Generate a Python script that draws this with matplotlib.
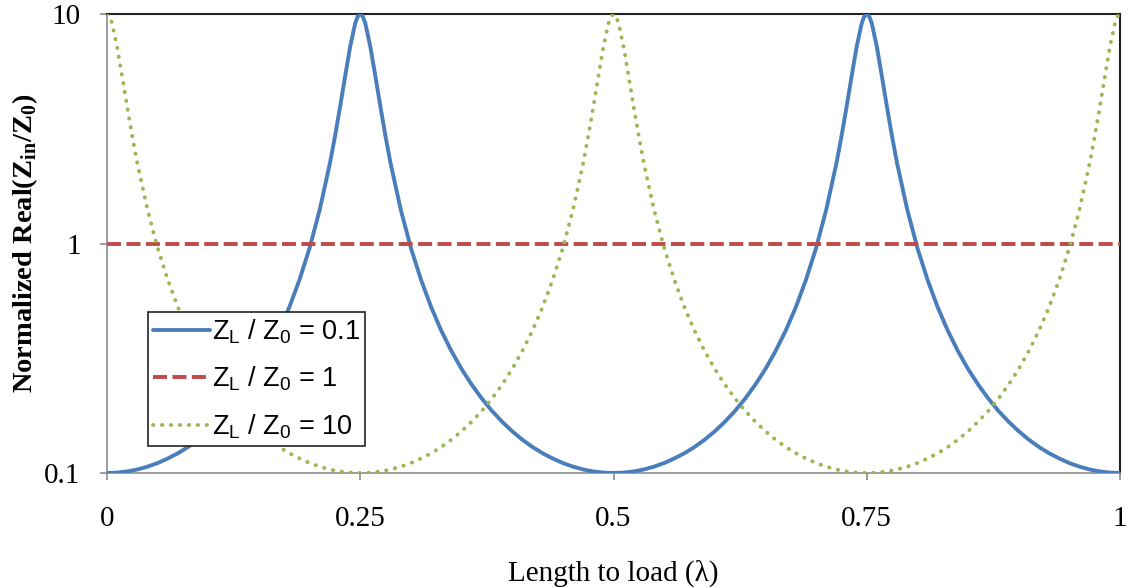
import matplotlib
matplotlib.use("Agg")
import matplotlib.pyplot as plt
from matplotlib.ticker import FixedLocator, FixedFormatter, NullLocator

# Z_L/Z_0 = 0.1 : length to load (wavelengths) and normalized real part
length_01 = [0.0, 0.01, 0.02, 0.03, 0.04, 0.05, 0.06, 0.07, 0.08, 0.09,
             0.10, 0.11, 0.12, 0.13, 0.14, 0.15, 0.16, 0.17, 0.18, 0.19,
             0.20, 0.21, 0.22, 0.225, 0.23, 0.235, 0.24, 0.245, 0.2475, 0.25,
             0.2525, 0.255, 0.26, 0.265, 0.27, 0.275, 0.28, 0.29, 0.30, 0.31,
             0.32, 0.33, 0.34, 0.35, 0.36, 0.37, 0.38, 0.39, 0.40, 0.41,
             0.42, 0.43, 0.44, 0.45, 0.46, 0.47, 0.48, 0.49, 0.50, 0.51,
             0.52, 0.53, 0.54, 0.55, 0.56, 0.57, 0.58, 0.59, 0.60, 0.61,
             0.62, 0.63, 0.64, 0.65, 0.66, 0.67, 0.68, 0.69, 0.70, 0.71,
             0.72, 0.725, 0.73, 0.735, 0.74, 0.745, 0.7475, 0.75, 0.7525, 0.755,
             0.76, 0.765, 0.77, 0.775, 0.78, 0.79, 0.80, 0.81, 0.82, 0.83,
             0.84, 0.85, 0.86, 0.87, 0.88, 0.89, 0.90, 0.91, 0.92, 0.93,
             0.94, 0.95, 0.96, 0.97, 0.98, 0.99, 1.0]
real_01 = [0.1, 0.1004, 0.1016, 0.1036, 0.1066, 0.1105, 0.1157, 0.1219, 0.1298, 0.1397,
           0.152, 0.1673, 0.1865, 0.211, 0.2427, 0.284, 0.340, 0.417, 0.528, 0.695,
           0.956, 1.404, 2.23, 2.92, 3.92, 5.33, 7.19, 9.1, 9.76, 10.0,
           9.76, 9.1, 7.19, 5.33, 3.92, 2.92, 2.23, 1.404, 0.956, 0.695,
           0.528, 0.417, 0.340, 0.284, 0.2427, 0.211, 0.1865, 0.1673, 0.152, 0.1397,
           0.1298, 0.1219, 0.1157, 0.1105, 0.1066, 0.1036, 0.1016, 0.1004, 0.1, 0.1004,
           0.1016, 0.1036, 0.1066, 0.1105, 0.1157, 0.1219, 0.1298, 0.1397, 0.152, 0.1673,
           0.1865, 0.211, 0.2427, 0.284, 0.340, 0.417, 0.528, 0.695, 0.956, 1.404,
           2.23, 2.92, 3.92, 5.33, 7.19, 9.1, 9.76, 10.0, 9.76, 9.1,
           7.19, 5.33, 3.92, 2.92, 2.23, 1.404, 0.956, 0.695, 0.528, 0.417,
           0.340, 0.284, 0.2427, 0.211, 0.1865, 0.1673, 0.152, 0.1397, 0.1298, 0.1219,
           0.1157, 0.1105, 0.1066, 0.1036, 0.1016, 0.1004, 0.1]

# Z_L/Z_0 = 1
length_1 = [0.0, 0.25, 0.5, 0.75, 1.0]
real_1 = [1.0, 1.0, 1.0, 1.0, 1.0]

# Z_L/Z_0 = 10
length_10 = [0.0, 0.0025, 0.005, 0.01, 0.015, 0.02, 0.025, 0.03, 0.04, 0.05,
             0.06, 0.07, 0.08, 0.09, 0.10, 0.11, 0.12, 0.13, 0.14, 0.15,
             0.16, 0.17, 0.18, 0.19, 0.20, 0.21, 0.22, 0.23, 0.24, 0.25,
             0.26, 0.27, 0.28, 0.29, 0.30, 0.31, 0.32, 0.33, 0.34, 0.35,
             0.36, 0.37, 0.38, 0.39, 0.40, 0.41, 0.42, 0.43, 0.44, 0.45,
             0.46, 0.47, 0.475, 0.48, 0.485, 0.49, 0.495, 0.4975, 0.5, 0.5025,
             0.505, 0.51, 0.515, 0.52, 0.525, 0.53, 0.54, 0.55, 0.56, 0.57,
             0.58, 0.59, 0.60, 0.61, 0.62, 0.63, 0.64, 0.65, 0.66, 0.67,
             0.68, 0.69, 0.70, 0.71, 0.72, 0.73, 0.74, 0.75, 0.76, 0.77,
             0.78, 0.79, 0.80, 0.81, 0.82, 0.83, 0.84, 0.85, 0.86, 0.87,
             0.88, 0.89, 0.90, 0.91, 0.92, 0.93, 0.94, 0.95, 0.96, 0.97,
             0.975, 0.98, 0.985, 0.99, 0.995, 0.9975, 1.0]
real_10 = [10.0, 9.76, 9.1, 7.19, 5.33, 3.92, 2.92, 2.23, 1.404, 0.956,
           0.695, 0.528, 0.417, 0.340, 0.284, 0.2427, 0.211, 0.1865, 0.1673, 0.152,
           0.1397, 0.1298, 0.1219, 0.1157, 0.1105, 0.1066, 0.1036, 0.1016, 0.1004, 0.1,
           0.1004, 0.1016, 0.1036, 0.1066, 0.1105, 0.1157, 0.1219, 0.1298, 0.1397, 0.152,
           0.1673, 0.1865, 0.211, 0.2427, 0.284, 0.340, 0.417, 0.528, 0.695, 0.956,
           1.404, 2.23, 2.92, 3.92, 5.33, 7.19, 9.1, 9.76, 10.0, 9.76,
           9.1, 7.19, 5.33, 3.92, 2.92, 2.23, 1.404, 0.956, 0.695, 0.528,
           0.417, 0.340, 0.284, 0.2427, 0.211, 0.1865, 0.1673, 0.152, 0.1397, 0.1298,
           0.1219, 0.1157, 0.1105, 0.1066, 0.1036, 0.1016, 0.1004, 0.1, 0.1004, 0.1016,
           0.1036, 0.1066, 0.1105, 0.1157, 0.1219, 0.1298, 0.1397, 0.152, 0.1673, 0.1865,
           0.211, 0.2427, 0.284, 0.340, 0.417, 0.528, 0.695, 0.956, 1.404, 2.23,
           2.92, 3.92, 5.33, 7.19, 9.1, 9.76, 10.0]

x_ticks = [0, 0.25, 0.5, 0.75, 1]
x_tick_labels = ["0", "0.25", "0.5", "0.75", "1"]
y_ticks = [0.1, 1, 10]
y_tick_labels = ["0.1", "1", "10"]
series_labels = [r"Z$_\mathregular{L}$ / Z$_\mathregular{0}$ = 0.1",
                 r"Z$_\mathregular{L}$ / Z$_\mathregular{0}$ = 1",
                 r"Z$_\mathregular{L}$ / Z$_\mathregular{0}$ = 10"]

serif = ["Liberation Serif", "DejaVu Serif"]
sans = ["Liberation Sans", "DejaVu Sans"]

fig = plt.figure(figsize=(11.28, 5.88), dpi=100)
ax = fig.add_axes([107 / 1128, 1 - 473 / 588, (1120 - 107) / 1128, (473 - 14) / 588])

ax.plot(length_01, real_01, color="#4A7EBB", lw=2.8, solid_capstyle="round",
        solid_joinstyle="round", label=series_labels[0], zorder=3)
ax.plot(length_1, real_1, color="#BE4B48", lw=2.8, dashes=(3.6, 1.4),
        label=series_labels[1], zorder=3)
ax.plot(length_10, real_10, color="#98B954", lw=2.8, linestyle=(0, (0.1, 2.2)),
        dash_capstyle="round", label=series_labels[2], zorder=3)

ax.set_yscale("log")
ax.set_xlim(0, 1)
ax.set_ylim(0.1, 10)
ax.xaxis.set_major_locator(FixedLocator(x_ticks))
ax.xaxis.set_major_formatter(FixedFormatter(x_tick_labels))
ax.yaxis.set_major_locator(FixedLocator(y_ticks))
ax.yaxis.set_major_formatter(FixedFormatter(y_tick_labels))
ax.yaxis.set_minor_locator(NullLocator())
ax.xaxis.set_minor_locator(NullLocator())

for s in ["left", "bottom"]:
    ax.spines[s].set_color("#8c8c8c")
    ax.spines[s].set_linewidth(1.2)
for s in ["top", "right"]:
    ax.spines[s].set_color("#222222")
    ax.spines[s].set_linewidth(1.5)

ax.tick_params(axis="both", direction="out", length=5, width=1.2, color="#8c8c8c")
ax.tick_params(axis="x", pad=19)
ax.tick_params(axis="y", pad=14)
for lbl in ax.get_xticklabels() + ax.get_yticklabels():
    lbl.set_family(serif)
    lbl.set_fontsize(21)

ax.set_xlabel("Length to load (λ)", family=serif, fontsize=21, labelpad=20)
ax.set_ylabel(r"Normalized Real(Z$_\mathregular{in}$/Z$_\mathregular{0}$)", family=serif,
              fontsize=20.5, fontweight="bold", labelpad=3)

leg = ax.legend(loc="lower left", bbox_to_anchor=((148 - 107) / 1013, (473 - 446) / 459),
                frameon=True, fancybox=False, edgecolor="#222222", framealpha=1,
                prop={"family": sans, "size": 19.5}, handlelength=2.1, handletextpad=0.05,
                borderaxespad=0, borderpad=0.2, labelspacing=0.7)
leg.get_frame().set_linewidth(1.2)

fig.savefig("out.png", dpi=100)
